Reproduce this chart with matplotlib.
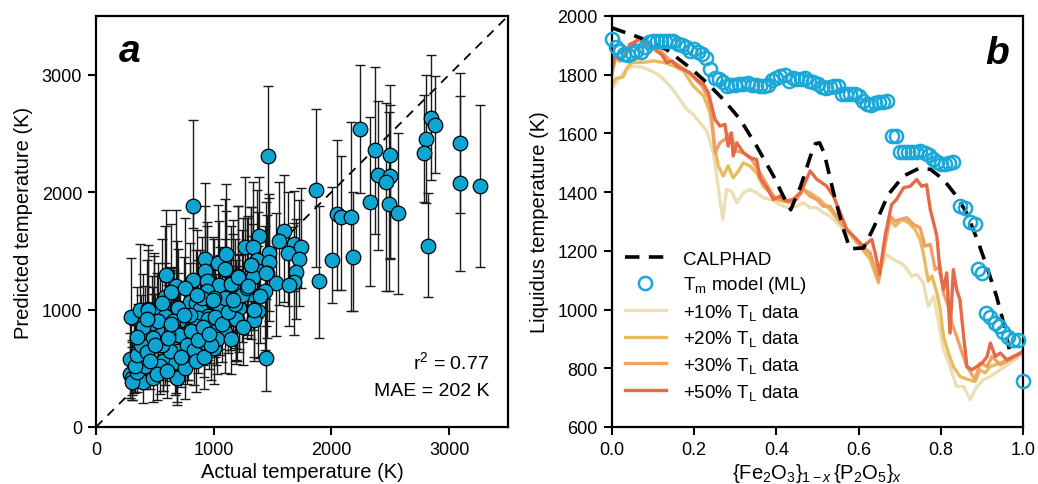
import matplotlib
matplotlib.use("Agg")
import matplotlib.pyplot as plt
import numpy as np

plt.rcParams['font.family'] = ['Liberation Sans', 'DejaVu Sans']
plt.rcParams['mathtext.fontset'] = 'custom'
plt.rcParams['mathtext.rm'] = 'Liberation Sans'
plt.rcParams['mathtext.it'] = 'Liberation Sans:italic'
plt.rcParams['mathtext.bf'] = 'Liberation Sans:bold'

# ---------------- Panel a data: (actual, predicted, err_low, err_high) ----------------
actual = [2240, 2370, 2325, 2395, 2495, 2500, 2465, 2492, 2565, 2800, 2790, 2845, 2880, 2820,
          3095, 3095, 3265, 2045, 2085, 2170, 2185, 2005, 1895, 1868, 1462, 1440, 820,
          1595, 1555, 1685, 1745, 1470, 1630, 1725, 1385, 1265, 1330, 1365, 1315, 1470, 1205,
          1378, 1330, 1455, 1525, 1700, 1680, 1640, 1160, 1245, 1435, 1315, 1390, 1215, 1378,
          1340, 1190,
          295, 375, 445, 492, 595, 680, 585, 690, 820, 925, 1038, 1108, 925, 1102, 945, 1045,
          1150, 1205, 795, 852, 940, 1095, 885, 968, 1188, 1094, 1000, 700, 490, 440, 585, 700,
          540, 662, 712, 416, 472, 585, 782, 770, 670, 396, 330, 565, 670, 303, 396, 486, 685,
          322, 1055, 1136, 1050, 952, 867, 848, 706, 613, 514, 472, 290, 289, 303, 571, 678,
          690, 698, 628, 543, 774, 831, 916, 1017, 1028, 1200, 1215, 1342, 1192, 950, 1314,
          1447, 310, 350, 420, 520, 600, 760, 850, 920, 980, 1150, 1250, 1100, 1000, 900, 800,
          650, 560, 480, 400, 360,
          330, 345, 380, 430, 455, 505, 530, 615, 640, 725, 745, 805, 870, 905, 960, 1010, 1070,
          1120, 1180, 1240, 1280, 640, 760, 560, 430, 350, 1165, 1290, 990, 860]
predicted = [2535, 2355, 1920, 2150, 2320, 2140, 2090, 1895, 1820, 2455, 2330, 2635, 2575, 1545,
             2420, 2075, 2055, 1815, 1785, 1790, 1445, 1420, 1240, 2015, 2312, 590, 1886,
             1668, 1585, 1560, 1535, 1484, 1484, 1433, 1625, 1530, 1535, 1421, 1376, 1404, 1286,
             1328, 1280, 1308, 1223, 1319, 1235, 1206, 1215, 1178, 1158, 1130, 1116, 1025, 988,
             912, 918,
             940, 997, 1008, 966, 1291, 1201, 1110, 1025, 1252, 1427, 1393, 1470, 1328, 1337, 1245,
             1206, 1215, 1280, 1065, 1059, 1158, 1342, 1008, 946, 918, 810, 669, 1017, 974, 1000,
             946, 895, 833, 833, 790, 748, 635, 635, 720, 663, 663, 592, 563, 563, 550, 422, 385,
             414, 414, 487, 1017, 1037, 1017, 946, 924, 856, 782, 790, 833, 884, 578, 450, 414,
             563, 550, 414, 648, 648, 521, 697, 654, 725, 856, 748, 918, 1017, 997, 918, 918,
             1376, 1314, 380, 470, 520, 450, 480, 500, 560, 600, 700, 750, 850, 1100, 1100, 1100,
             950, 900, 700, 760, 850, 650,
             520, 610, 700, 640, 560, 700, 900, 760, 880, 600, 950, 820, 740, 850, 790, 940, 880,
             980, 1050, 1120, 1180, 1150, 1180, 1060, 920, 770, 1080, 1200, 1080, 1120]
err_low = [540, 715, 720, 645, 890, 700, 935, 740, 690, 545, 410, 530, 410, 440,
           1095, 250, 695, 650, 620, 800, 455, 365, 485, 650, 800, 285, 195,
           600, 550, 400, 350, 500, 450, 400, 560, 550, 400, 400, 450, 500, 350,
           400, 450, 550, 450, 400, 450, 350, 400, 350, 500, 380, 400, 360, 400,
           350, 350,
           500, 450, 450, 400, 500, 500, 420, 380, 400, 500, 450, 500, 450, 500, 450, 350,
           400, 450, 400, 380, 420, 450, 350, 400, 380, 350, 300, 380, 400, 380, 350, 350,
           300, 300, 300, 300, 250, 280, 320, 300, 250, 250, 230, 260, 280, 150, 180, 200, 230,
           200, 350, 380, 400, 350, 320, 300, 280, 280, 300, 350, 220, 200, 180, 260, 260,
           200, 270, 260, 240, 300, 300, 300, 330, 300, 360, 380, 400, 360, 350, 400,
           450, 150, 170, 200, 220, 230, 260, 260, 280, 300, 300, 320, 350, 400, 380, 350,
           320, 300, 300, 320, 250,
           220, 260, 280, 260, 240, 280, 330, 300, 320, 260, 350, 300, 280, 320, 300, 340, 330,
           350, 380, 400, 420, 400, 420, 360, 330, 290, 380, 420, 380, 400]
err_high = [550, 710, 720, 630, 595, 600, 670, 790, 680, 545, 500, 535, 415, 450,
            595, 740, 690, 625, 520, 810, 560, 620, 640, 690, 595, 500, 730,
            480, 500, 450, 500, 500, 520, 500, 500, 600, 550, 600, 500, 550, 600,
            500, 450, 500, 600, 450, 500, 500, 550, 600, 550, 500, 500, 450, 550,
            450, 500,
            500, 560, 500, 520, 560, 650, 600, 560, 600, 650, 500, 600, 550, 500, 500, 550,
            500, 600, 500, 450, 550, 600, 500, 450, 420, 400, 450, 500, 480, 550, 450, 420,
            450, 500, 450, 450, 500, 450, 450, 400, 450, 400, 380, 420, 380, 300, 300, 350, 360,
            380, 450, 450, 520, 480, 500, 420, 420, 450, 480, 400, 400, 350, 330, 400, 370,
            380, 420, 480, 420, 450, 380, 420, 450, 420, 450, 450, 500, 450, 480, 500,
            600, 300, 320, 380, 350, 360, 380, 380, 400, 450, 420, 450, 500, 500, 520, 450,
            450, 430, 430, 450, 400,
            350, 380, 420, 400, 380, 430, 500, 450, 480, 400, 500, 460, 440, 480, 450, 500, 480,
            520, 550, 560, 600, 580, 600, 540, 500, 420, 560, 600, 540, 560]
r2_text = "r$^2$ = 0.77"
mae_text = "MAE = 202 K"

# ---------------- Panel b data ----------------
calphad_x = [0, 0.069, 0.133, 0.19, 0.231, 0.271, 0.312, 0.352, 0.393, 0.417, 0.435, 0.459,
             0.483, 0.495, 0.505, 0.516, 0.539, 0.563, 0.579, 0.612, 0.636, 0.672, 0.709,
             0.745, 0.774, 0.806, 0.838, 0.862, 0.888, 0.911, 0.935, 0.952, 0.966]
calphad_T = [1960, 1926, 1886, 1824, 1773, 1716, 1648, 1557, 1455, 1386, 1340, 1420,
             1523, 1565, 1568, 1534, 1398, 1273, 1207, 1210, 1278, 1392, 1455,
             1480, 1478, 1443, 1386, 1330, 1239, 1148, 1045, 955, 865]

ml_x = [0.00, 0.01, 0.02, 0.03, 0.04, 0.05, 0.06, 0.07, 0.08, 0.09, 0.10, 0.11, 0.12, 0.13,
        0.14, 0.15, 0.16, 0.17, 0.18, 0.19, 0.20, 0.21, 0.22, 0.23, 0.24, 0.25, 0.26, 0.27,
        0.28, 0.29, 0.30, 0.31, 0.32, 0.33, 0.34, 0.35, 0.36, 0.37, 0.38, 0.39, 0.40, 0.41,
        0.42, 0.43, 0.44, 0.45, 0.46, 0.47, 0.48, 0.49, 0.50, 0.51, 0.52, 0.53, 0.54, 0.55,
        0.56, 0.57, 0.58, 0.59, 0.60, 0.61, 0.62, 0.63, 0.64, 0.65, 0.66, 0.67,
        0.68, 0.69, 0.70, 0.71, 0.72, 0.73, 0.74, 0.75, 0.76, 0.77, 0.78, 0.79, 0.80, 0.81,
        0.82, 0.83, 0.846, 0.858, 0.87, 0.882, 0.891, 0.899, 0.909, 0.919, 0.931, 0.942,
        0.951, 0.964, 0.976, 0.988, 1.0]
ml_T = [1923, 1895, 1880, 1872, 1868, 1875, 1880, 1878, 1895, 1910, 1915, 1916, 1916, 1916,
        1914, 1916, 1906, 1900, 1896, 1882, 1886, 1876, 1870, 1858, 1818, 1790, 1784, 1776,
        1762, 1766, 1764, 1768, 1770, 1772, 1764, 1766, 1762, 1760, 1764, 1782, 1790, 1796,
        1800, 1780, 1790, 1786, 1784, 1790, 1780, 1774, 1768, 1758, 1756, 1758, 1760, 1762,
        1734, 1733, 1734, 1733, 1726, 1712, 1700, 1698, 1702, 1706, 1708, 1710,
        1590, 1590, 1536, 1536, 1536, 1536, 1538, 1540, 1535, 1525, 1512, 1502, 1496, 1496,
        1500, 1504, 1352, 1345, 1300, 1293, 1138, 1125, 988, 976, 955, 945,
        922, 905, 898, 898, 755]

p50_x = [0, 0.008, 0.02, 0.032, 0.044, 0.061, 0.069, 0.081, 0.093, 0.109, 0.121, 0.134, 0.146,
         0.158, 0.174, 0.19, 0.206, 0.223, 0.235, 0.243, 0.251, 0.263, 0.275, 0.283, 0.291,
         0.295, 0.304, 0.32, 0.336, 0.352, 0.36, 0.377, 0.393, 0.409, 0.425, 0.441, 0.458,
         0.466, 0.482, 0.498, 0.522, 0.539, 0.555, 0.571, 0.591, 0.611, 0.632, 0.64, 0.651,
         0.664, 0.68, 0.692, 0.709, 0.725, 0.741, 0.753, 0.765, 0.774, 0.79, 0.798, 0.806,
         0.814, 0.822, 0.83, 0.838, 0.846, 0.855, 0.863, 0.875, 0.887, 0.9, 0.912, 0.92,
         0.932, 0.944, 0.96, 0.976, 1.0]
p50_T = [1815, 1864, 1853, 1864, 1904, 1915, 1921, 1904, 1898, 1881, 1869, 1841, 1847,
         1830, 1818, 1807, 1784, 1767, 1739, 1693, 1648, 1625, 1631, 1557, 1602,
         1523, 1568, 1534, 1517, 1511, 1450, 1415, 1375, 1386, 1369, 1375, 1398,
         1420, 1472, 1444, 1421, 1386, 1330, 1273, 1245, 1216, 1239, 1193, 1120,
         1250, 1358, 1375, 1415, 1420, 1443, 1420, 1425, 1341, 1250, 1125, 1068,
         1125, 920, 1136, 1068, 1034, 909, 806, 795, 806, 818, 840, 886,
         840, 852, 829, 840, 857]

p30_x = [0, 0.01, 0.02, 0.035, 0.05, 0.065, 0.08, 0.1, 0.12, 0.14, 0.16, 0.18, 0.2, 0.22,
         0.235, 0.243, 0.251, 0.263, 0.275, 0.288, 0.303, 0.32, 0.336, 0.36, 0.377, 0.393,
         0.409, 0.433, 0.449, 0.466, 0.482, 0.498, 0.514, 0.53, 0.547, 0.563, 0.579, 0.603,
         0.628, 0.648, 0.664, 0.676, 0.689, 0.701, 0.717, 0.733, 0.749, 0.761, 0.774, 0.786,
         0.798, 0.806, 0.818, 0.826, 0.838, 0.846, 0.863, 0.883, 0.895, 0.912, 0.924, 0.944,
         0.968, 1.0]
p30_T = [1800, 1860, 1845, 1875, 1895, 1926, 1910, 1895, 1880, 1850, 1835, 1815, 1790, 1760,
         1720, 1659, 1534, 1568, 1580, 1600, 1540, 1534, 1520, 1466, 1426, 1386,
         1375, 1364, 1375, 1409, 1386, 1375, 1352, 1352, 1318, 1284, 1262, 1222,
         1193, 1102, 1220, 1318, 1301, 1307, 1313, 1290, 1279, 1216, 1222, 1136,
         1148, 1057, 1011, 955, 909, 875, 806, 761, 818, 806, 840, 812,
         829, 857]

p20_x = [0, 0.01, 0.028, 0.036, 0.049, 0.077, 0.101, 0.126, 0.15, 0.174, 0.198, 0.223, 0.239,
         0.251, 0.259, 0.271, 0.283, 0.295, 0.308, 0.32, 0.336, 0.352, 0.368, 0.385, 0.401,
         0.417, 0.441, 0.466, 0.482, 0.506, 0.53, 0.555, 0.579, 0.603, 0.628, 0.648, 0.664,
         0.676, 0.689, 0.705, 0.721, 0.737, 0.749, 0.757, 0.769, 0.778, 0.79, 0.798, 0.806,
         0.818, 0.83, 0.846, 0.867, 0.883, 0.895, 0.907, 0.92, 0.944, 0.968, 1.0]
p20_T = [1764, 1787, 1792, 1821, 1842, 1842, 1847, 1842, 1830, 1813, 1762, 1728, 1671,
         1546, 1489, 1455, 1489, 1449, 1472, 1500, 1489, 1466, 1420, 1398, 1375,
         1369, 1375, 1409, 1398, 1375, 1341, 1296, 1262, 1216, 1171, 1091, 1227,
         1307, 1284, 1307, 1296, 1273, 1239, 1193, 1097, 1114, 1057, 1000, 909,
         852, 806, 772, 761, 755, 795, 784, 806, 818, 835, 857]

p10_x = [0, 0.016, 0.036, 0.053, 0.077, 0.097, 0.117, 0.142, 0.166, 0.182, 0.198, 0.215,
         0.231, 0.247, 0.255, 0.263, 0.27, 0.279, 0.291, 0.304, 0.32, 0.336, 0.352, 0.368,
         0.385, 0.401, 0.417, 0.433, 0.45, 0.466, 0.482, 0.498, 0.514, 0.53, 0.555, 0.579,
         0.603, 0.628, 0.648, 0.668, 0.684, 0.709, 0.729, 0.741, 0.757, 0.769, 0.782, 0.794,
         0.806, 0.822, 0.838, 0.855, 0.871, 0.887, 0.903, 0.92, 0.944, 0.968, 1.0]
p10_T = [1750, 1784, 1818, 1830, 1824, 1813, 1796, 1762, 1716, 1682, 1665, 1636,
         1608, 1534, 1455, 1375, 1307, 1409, 1403, 1364, 1398, 1409, 1398, 1381,
         1375, 1364, 1352, 1347, 1352, 1364, 1347, 1347, 1330, 1318, 1284, 1250,
         1216, 1182, 1125, 1187, 1171, 1153, 1114, 1120, 1091, 1011, 1045, 955,
         864, 806, 738, 738, 693, 738, 761, 772, 795, 818, 852]

series_labels = ["+10% T$_\\mathrm{L}$ data", "+20% T$_\\mathrm{L}$ data",
                 "+30% T$_\\mathrm{L}$ data", "+50% T$_\\mathrm{L}$ data"]
series_colors = ['#ebdfb3', '#e8bb5e', '#f2a05f', '#e66a47']

# ---------------- Figure ----------------
fig = plt.figure(figsize=(10.38, 4.85), dpi=100)
axa = fig.add_axes([96/1038, 57/485, 412/1038, 411/485])
axb = fig.add_axes([611.7/1038, 57/485, 411.6/1038, 411/485])

for ax in (axa, axb):
    for s in ax.spines.values():
        s.set_linewidth(1.6)
    ax.tick_params(direction='out', length=6, width=1.5, labelsize=13, pad=4)

# Panel a
axa.plot([0, 3500], [0, 3500], ls=(0, (5, 4)), color='black', lw=1.3, zorder=1)
axa.errorbar(actual, predicted, yerr=[err_low, err_high], fmt='none', ecolor='#1a1a1a',
             elinewidth=1.0, capsize=3.5, capthick=1.0, zorder=2)
axa.scatter(actual, predicted, s=110, facecolor='#0ea5d3', edgecolor='black',
            linewidth=0.9, zorder=3)
axa.set_xlim(0, 3500)
axa.set_ylim(0, 3500)
axa.set_xticks([0, 1000, 2000, 3000])
axa.set_yticks([0, 1000, 2000, 3000])
axa.set_xlabel("Actual temperature (K)", fontsize=14.5, labelpad=3)
axa.set_ylabel("Predicted temperature (K)", fontsize=14.5, labelpad=6)
axa.text(0.955, 0.16, r2_text, transform=axa.transAxes, ha='right', va='center', fontsize=14)
axa.text(0.955, 0.088, mae_text, transform=axa.transAxes, ha='right', va='center', fontsize=14)
axa.text(0.055, 0.915, "a", transform=axa.transAxes, ha='left', va='center',
         fontsize=28, fontweight='bold', fontstyle='italic')

# Panel b
xs = [p10_x, p20_x, p30_x, p50_x]
ys = [p10_T, p20_T, p30_T, p50_T]
for x, y, c, lab in zip(xs, ys, series_colors, series_labels):
    axb.plot(x, y, color=c, lw=2.4, label=lab, zorder=2)
l_cal, = axb.plot(calphad_x, calphad_T, color='black', lw=2.6, ls=(0, (4, 2.6)),
                  label='CALPHAD', zorder=3)
l_ml, = axb.plot(ml_x, ml_T, ls='none', marker='o', ms=9.5, mfc='none', mec='#1ba8d8',
                 mew=1.8, label='T$_\\mathrm{m}$ model (ML)', zorder=4, clip_on=False)
axb.set_xlim(0, 1.0)
axb.set_ylim(600, 2000)
axb.set_xticks([0, 0.2, 0.4, 0.6, 0.8, 1.0])
axb.set_yticks(range(600, 2001, 200))
axb.set_xticklabels(['0.0', '0.2', '0.4', '0.6', '0.8', '1.0'])
axb.set_xlabel(r'$\{\mathrm{Fe_2O_3}\}_{1-x}\,\{\mathrm{P_2O_5}\}_x$', fontsize=14.5, labelpad=2)
axb.set_ylabel("Liquidus temperature (K)", fontsize=14.5, labelpad=6)
axb.text(0.965, 0.91, "b", transform=axb.transAxes, ha='right', va='center',
         fontsize=28, fontweight='bold', fontstyle='italic')

handles, labels = axb.get_legend_handles_labels()
order = [4, 5, 0, 1, 2, 3]
axb.legend([handles[i] for i in order], [labels[i] for i in order], loc='lower left',
           bbox_to_anchor=(0.0, 0.03), frameon=False, fontsize=13.5, handlelength=2.2,
           handletextpad=0.9, labelspacing=0.35, borderaxespad=0.3)

fig.savefig("out.png", dpi=100)
